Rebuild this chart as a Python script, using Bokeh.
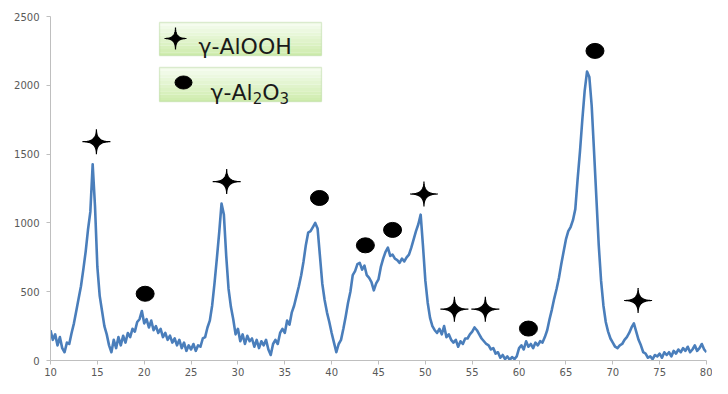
import numpy as np
from bokeh.plotting import figure
from bokeh.models import FixedTicker, BoxAnnotation, Label, Range1d
from bokeh.embed import file_html
from bokeh.resources import INLINE

# ---------------- data ----------------
two_theta = np.arange(10.0, 80.001, 0.25)

intensity = (
    [220, 150, 190, 110, 170, 90, 60, 130, 120, 200, 270, 360, 450, 540, 660, 790, 950, 1080, 1425, 1120] +   # 10-14.75
    [680, 470, 360, 250, 190, 110, 60, 150, 90, 170, 110, 180, 130, 200, 170, 230, 210, 280, 300, 360] +      # 15-19.75
    [270, 300, 240, 290, 220, 250, 200, 230, 170, 200, 150, 180, 130, 160, 110, 150, 90, 130, 70, 110] +      # 20-24.75
    [80, 120, 70, 110, 100, 160, 170, 240, 290, 400, 560, 740, 930, 1140, 1060, 760, 520, 390, 300, 190] +    # 25-29.75
    [230, 140, 190, 120, 180, 140, 160, 100, 150, 90, 140, 110, 150, 80, 40, 120, 150, 120, 200, 230] +       # 30-34.75
    [200, 290, 260, 350, 400, 470, 540, 620, 720, 840, 930, 940, 970, 1000, 960, 760, 560, 440, 350, 280] +   # 35-39.75
    [200, 130, 60, 120, 150, 230, 320, 420, 500, 620, 650, 700, 710, 660, 690, 620, 600, 570, 510, 560] +     # 40-44.75
    [590, 680, 740, 790, 820, 760, 770, 740, 730, 710, 740, 720, 750, 770, 820, 880, 940, 990, 1060, 830] +   # 45-49.75
    [580, 420, 310, 250, 220, 200, 230, 190, 250, 170, 190, 150, 130, 150, 100, 140, 120, 160, 160, 190] +    # 50-54.75
    [210, 240, 220, 190, 160, 140, 120, 110, 80, 90, 50, 60, 20, 40, 10, 30, 5, 25, 10, 30] +                 # 55-59.75
    [90, 110, 80, 140, 100, 120, 90, 130, 110, 140, 130, 170, 220, 300, 370, 450, 520, 600, 700, 790] +       # 60-64.75
    [880, 940, 970, 1020, 1100, 1320, 1520, 1750, 1960, 2100, 2060, 1850, 1520, 1180, 840, 580, 400, 280, 210, 160] +  # 65-69.75
    [130, 100, 90, 110, 120, 150, 170, 200, 240, 270, 210, 150, 110, 60, 50, 20, 30, 10, 40, 30] +           # 70-74.75
    [50, 20, 60, 40, 60, 30, 70, 50, 80, 60, 90, 70, 100, 60, 80, 110, 70, 90, 120, 80] +                     # 75-79.75
    [60]
)

aloooh_x = [14.9, 28.8, 49.85, 53.1, 56.4, 72.7]
aloooh_y = [1590, 1300, 1210, 373, 373, 436]

al2o3_x = [20.1, 38.7, 43.6, 46.5, 61.0, 68.1]
al2o3_y = [485, 1181, 837, 949, 232, 2250]

x_ticks = [10, 15, 20, 25, 30, 35, 40, 45, 50, 55, 60, 65, 70, 75, 80]
y_ticks = [0, 500, 1000, 1500, 2000, 2500]

legend_text_1 = "γ-AlOOH"
legend_text_2 = ["γ-Al", "2", "O", "3"]

# ---------------- figure ----------------
X0, X1, Y0, Y1 = 10, 80, 0, 2500
FW, FH = 656, 344
ML, MR, MT, MB = 50, 6, 16, 18

p = figure(frame_width=FW, frame_height=FH, output_backend="svg", toolbar_location=None,
           x_range=Range1d(X0, X1), y_range=Range1d(Y0, Y1))
p.min_border_left = ML
p.min_border_right = MR
p.min_border_top = MT
p.min_border_bottom = MB
p.outline_line_color = None
p.grid.visible = False
p.background_fill_color = "white"
p.border_fill_color = "white"

for ax in (p.xaxis, p.yaxis):
    ax.axis_line_color = "#bfbfbf"
    ax.major_tick_line_color = "#bfbfbf"
    ax.minor_tick_line_color = None
    ax.major_tick_in = 0
    ax.major_tick_out = 4
    ax.major_label_text_font = "DejaVu Sans"
    ax.major_label_text_font_size = "10px"
    ax.major_label_text_color = "#595959"
p.xaxis.ticker = FixedTicker(ticks=x_ticks)
p.yaxis.ticker = FixedTicker(ticks=y_ticks)
p.xaxis.major_label_standoff = 3
p.yaxis.major_label_standoff = 7

# screen-pixel -> data helpers (for layout only)
SX = (X1 - X0) / FW
SY = (Y1 - Y0) / FH
def px2x(px):
    return X0 + (px - ML) * SX
def py2y(py):
    return Y1 - (py - MT) * SY

def star_shape(cx, cy, rx, ry, k=4.2, n=160):
    t = np.linspace(0, 2 * np.pi, n, endpoint=False)
    c, s = np.cos(t), np.sin(t)
    dx = rx * np.sign(c) * np.abs(c) ** k
    dy = ry * np.sign(s) * np.abs(s) ** k
    return list(cx + dx * SX), list(cy + dy * SY)

p.line(two_theta, intensity, line_color="#4a7ebb", line_width=2.6, line_join="round")

# markers
p.ellipse(x=al2o3_x, y=al2o3_y, width=18, height=15, width_units="screen",
          height_units="screen", fill_color="black", line_color="black")
xs, ys = [], []
for cx, cy in zip(aloooh_x, aloooh_y):
    sx_, sy_ = star_shape(cx, cy, 14, 12.5)
    xs.append(sx_)
    ys.append(sy_)
p.patches(xs, ys, fill_color="black", line_color="black", line_width=1.2)

# ---------------- legend boxes ----------------
top_c = np.array([0xf5, 0xfc, 0xee])
bot_c = np.array([0xd0, 0xed, 0xb0])
for (t, b) in [(22, 55), (67, 101)]:
    n = 10
    for i in range(n):
        c = top_c + (bot_c - top_c) * i / (n - 1)
        col = "#%02x%02x%02x" % tuple(int(v) for v in c)
        st = t + (b - t) * i / n
        sb = t + (b - t) * (i + 1) / n
        p.add_layout(BoxAnnotation(left=px2x(159), right=px2x(321), top=py2y(st), bottom=py2y(sb),
                                   fill_color=col, fill_alpha=1, line_color=None, level="underlay"))
    p.add_layout(BoxAnnotation(left=px2x(159), right=px2x(321), top=py2y(t), bottom=py2y(b),
                               fill_alpha=0, line_color="#93c46c", line_width=1.3, level="underlay"))

lsx, lsy = star_shape(px2x(175), py2y(38), 11, 11)
p.patch(lsx, lsy, fill_color="black", line_color="black", line_width=1.2)
p.add_layout(Label(x=px2x(198), y=py2y(46), text=legend_text_1, text_font="DejaVu Sans",
                   text_font_size="22px", text_color="#1a1a1a", text_baseline="alphabetic"))
p.ellipse(x=[px2x(183)], y=[py2y(82)], width=17, height=13, width_units="screen",
          height_units="screen", fill_color="black", line_color="black")

# composed "γ-Al2O3" with real subscripts
base_x, base_y = px2x(210), py2y(92)
fs_big, fs_small = 22, 15
w_gal = (0.592 + 0.361 + 0.684 + 0.278) * fs_big
w_sub = 0.636 * fs_small
w_o = 0.787 * fs_big
offsets = [0, w_gal, w_gal + w_sub, w_gal + w_sub + w_o]
for txt, off in zip(legend_text_2, offsets):
    small = txt.isdigit()
    p.add_layout(Label(x=base_x, y=base_y, x_offset=off, y_offset=-5 if small else 0, text=txt,
                       text_font="DejaVu Sans", text_font_size="%dpx" % (fs_small if small else fs_big),
                       text_color="#1a1a1a", text_baseline="alphabetic"))

open("out.html", "w").write(file_html(p, INLINE))
